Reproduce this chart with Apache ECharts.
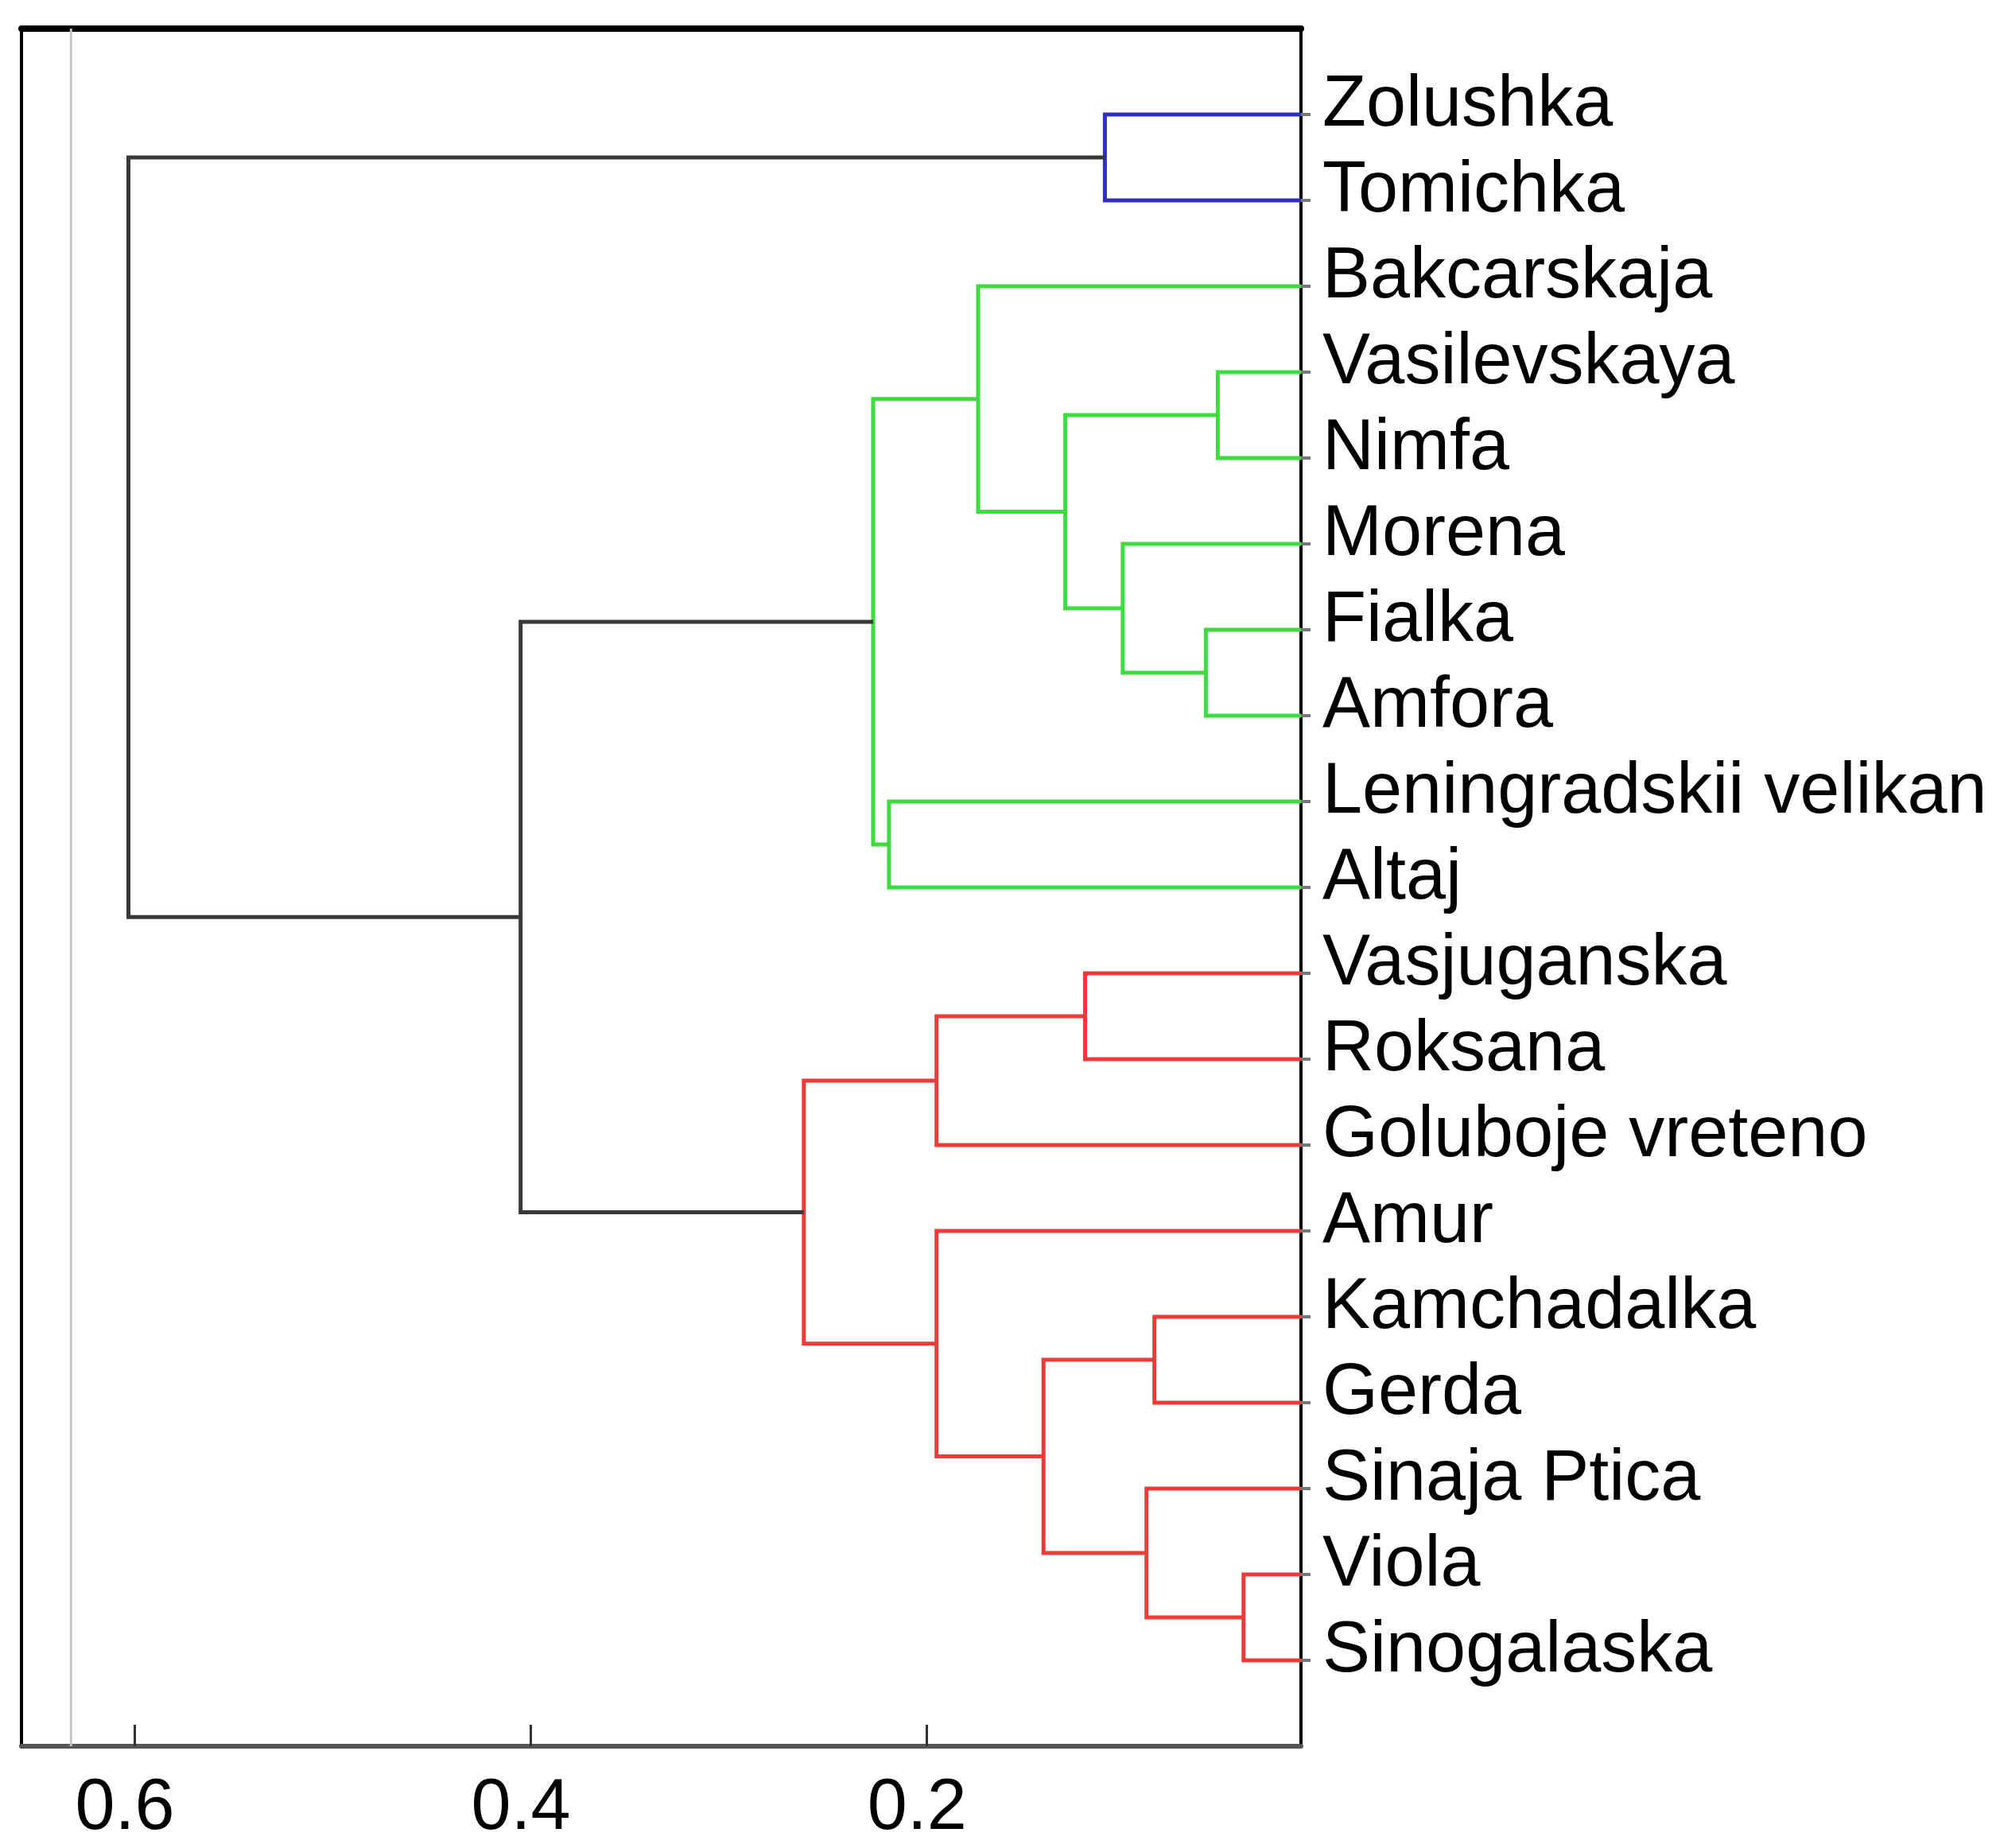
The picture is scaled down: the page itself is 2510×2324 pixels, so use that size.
<!DOCTYPE html>
<html><head><meta charset="utf-8">
<script src="https://cdn.jsdelivr.net/npm/echarts@6/dist/echarts.min.js"></script>
<style>html,body{margin:0;padding:0;background:#fff}#c{width:2510px;height:2324px}</style>
</head><body><div id="c"></div>
<script>
// ---- data ----
const leaves = ['Zolushka','Tomichka','Bakcarskaja','Vasilevskaya','Nimfa','Morena','Fialka','Amfora',
  'Leningradskii velikan','Altaj','Vasjuganska','Roksana','Goluboje vreteno','Amur','Kamchadalka','Gerda',
  'Sinaja Ptica','Viola','Sinogalaska'];
// merges: [left node, right node, height, cluster]; node ids >= leaves.length refer to earlier merges
const mergeLeft   = [0, 3, 6, 5, 20, 2, 8, 24, 10, 27, 14, 17, 16, 29, 13, 28, 26, 19];
const mergeRight  = [1, 4, 7, 21, 22, 23, 9, 25, 11, 12, 15, 18, 30, 31, 32, 33, 34, 35];
const mergeHeight = [0.110, 0.053, 0.059, 0.101, 0.130, 0.174, 0.219, 0.227, 0.120, 0.195, 0.085, 0.040, 0.089, 0.141, 0.195, 0.262, 0.405, 0.603];
const mergeCluster= ['blue','green','green','green','green','green','green','green','red','red','red','red','red','red','red','red','black','black'];
const xTickValues = [0.2, 0.4, 0.6];
const cutLevel = 0.632;
const xAxisMin = 0.011, xAxisMax = 0.657;

// ---- styles ----
const clusterColors = {blue:'#2f2fc4', green:'#3fdc3f', red:'#ef3a3a', black:'#383838'};
const FONT = 'Liberation Sans, Arial, sans-serif';

// ---- build dendrogram ----
const nodeY = leaves.map((_, i) => i);
const nodeH = leaves.map(() => xAxisMin);
const linkData = [];
for (let k = 0; k < mergeLeft.length; k++) {
  const a = mergeLeft[k], b = mergeRight[k], h = mergeHeight[k];
  const ya = nodeY[a], yb = nodeY[b];
  linkData.push({
    coords: [[nodeH[a], ya], [h, ya], [h, yb], [nodeH[b], yb]],
    lineStyle: {color: clusterColors[mergeCluster[k]]}
  });
  nodeY.push((ya + yb) / 2);
  nodeH.push(h);
}
const leafIdx = leaves.map((_, i) => i);

const chart = echarts.init(document.getElementById('c'), null, {renderer: 'canvas'});
chart.setOption({
  animation: false,
  backgroundColor: '#fff',
  grid: {left: 27, right: 874, top: 36, bottom: 128, containLabel: false},
  xAxis: [{
    type: 'value', position: 'bottom', inverse: true, min: xAxisMin, max: xAxisMax,
    axisLine: {show: true, onZero: false, lineStyle: {color: '#555', width: 6}},
    axisTick: {show: true, inside: true, length: 27, customValues: xTickValues, lineStyle: {color: '#333', width: 3}},
    axisLabel: {customValues: xTickValues, fontSize: 90, fontFamily: FONT, color: '#000', margin: 34,
      padding: [0, 24, 0, 0], formatter: v => String(v)},
    splitLine: {show: false}
  }, {
    type: 'value', position: 'top', inverse: true, min: xAxisMin, max: xAxisMax,
    axisLine: {show: true, onZero: false, lineStyle: {color: '#000', width: 8}},
    axisTick: {show: false}, axisLabel: {show: false}, splitLine: {show: false}
  }],
  yAxis: [{
    type: 'value', position: 'right', inverse: true, min: -1, max: 19,
    axisLine: {show: true, onZero: false, lineStyle: {color: '#000', width: 4}},
    axisTick: {show: true, inside: false, length: 12, customValues: leafIdx, lineStyle: {color: '#777', width: 4}},
    axisLabel: {customValues: leafIdx, formatter: v => leaves[v], fontSize: 90, fontFamily: FONT, color: '#000',
      margin: 27, verticalAlign: 'bottom', lineHeight: 22},
    splitLine: {show: false}
  }, {
    type: 'value', position: 'left', inverse: true, min: -1, max: 19,
    axisLine: {show: true, onZero: false, lineStyle: {color: '#000', width: 4}},
    axisTick: {show: false}, axisLabel: {show: false}, splitLine: {show: false}
  }],
  series: [{
    name: 'cut', type: 'line', xAxisIndex: 0, yAxisIndex: 0, symbol: 'none',
    data: [[cutLevel, -1], [cutLevel, 19]],
    lineStyle: {color: '#c4c4c4', width: 3}, silent: true
  }, {
    name: 'dendrogram', type: 'lines', coordinateSystem: 'cartesian2d', xAxisIndex: 0, yAxisIndex: 0,
    polyline: true, data: linkData,
    lineStyle: {width: 5, opacity: 1, curveness: 0}, silent: true
  }]
});
</script></body></html>
